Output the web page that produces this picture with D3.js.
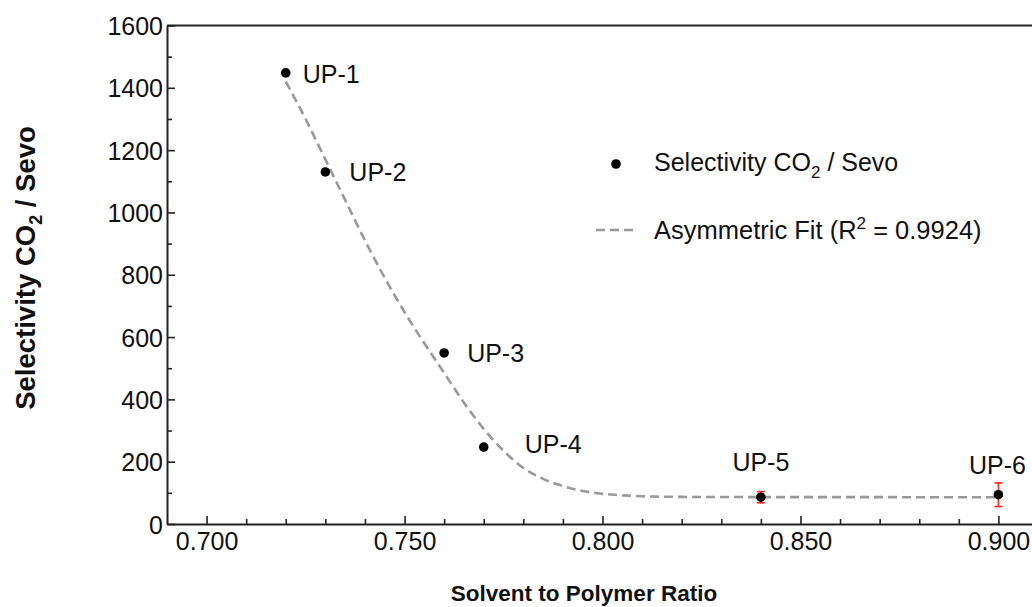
<!DOCTYPE html>
<html>
<head>
<meta charset="utf-8">
<script src="https://cdn.jsdelivr.net/npm/d3@7"></script>
<style>
  html, body { margin: 0; padding: 0; background: #fff; }
  svg { display: block; font-family: Arial, "Liberation Sans", sans-serif; }
</style>
</head>
<body>
<svg id="chart" width="1032" height="607"></svg>
<script>
// Membrane samples: solvent-to-polymer ratio vs CO2/Sevo selectivity
const sampleNames = ["UP-1", "UP-2", "UP-3", "UP-4", "UP-5", "UP-6"];
const ratios = [0.720, 0.730, 0.760, 0.770, 0.840, 0.900];
const selectivity = [1448, 1130, 549, 247, 86, 94];
const selectivityErr = [0, 0, 0, 0, 18, 38];

// Asymmetric fit curve, sampled
const fitX = [0.720, 0.725, 0.730, 0.735, 0.740, 0.745, 0.750, 0.755, 0.760, 0.765, 0.770,
              0.775, 0.780, 0.785, 0.790, 0.795, 0.800, 0.805, 0.810, 0.820, 0.830, 0.900];
const fitY = [1420, 1300, 1170, 1040, 910, 790, 680, 580, 485, 390, 305,
              235, 180, 145, 122, 106, 97, 92, 89, 87, 86.5, 86];

const xMajorTicks = [0.700, 0.750, 0.800, 0.850, 0.900];
const yMajorTicks = [0, 200, 400, 600, 800, 1000, 1200, 1400, 1600];

const svg = d3.select("#chart");
const plotLeft = 167, plotRight = 1038, plotTop = 25.5, plotBottom = 524;
const fontSize = 25;

const x = d3.scaleLinear().domain([0.69, 0.91]).range([plotLeft, plotRight]);
const y = d3.scaleLinear().domain([0, 1600]).range([plotBottom, plotTop]);

const axisColor = "#222";

// frame: top border
svg.append("line")
  .attr("x1", plotLeft).attr("x2", plotRight).attr("y1", plotTop).attr("y2", plotTop)
  .attr("stroke", axisColor).attr("stroke-width", 2);

// x axis with inward ticks
const xAxis = svg.append("g").attr("transform", `translate(0,${plotBottom})`);
xAxis.call(d3.axisBottom(x).tickValues(d3.range(0.70, 0.9001, 0.01)).tickSize(0).tickFormat(""));
xAxis.select(".domain").attr("stroke", axisColor).attr("stroke-width", 2);
xAxis.selectAll(".tick").each(function(d) {
  const major = xMajorTicks.some(v => Math.abs(v - d) < 1e-6);
  const g = d3.select(this);
  g.select("line").attr("y2", major ? -8 : -5).attr("stroke", axisColor).attr("stroke-width", 1.6);
  g.select("text").remove();
  if (major) {
    g.append("text").attr("y", 26).attr("text-anchor", "middle")
      .attr("font-size", fontSize).attr("fill", "#111").text(d3.format(".3f")(d));
  }
});

// y axis with inward ticks
const yAxis = svg.append("g").attr("transform", `translate(${plotLeft},0)`);
yAxis.call(d3.axisLeft(y).tickValues(d3.range(0, 1601, 100)).tickSize(0).tickFormat(""));
yAxis.select(".domain").attr("stroke", axisColor).attr("stroke-width", 2);
yAxis.selectAll(".tick").each(function(d) {
  const major = yMajorTicks.includes(d);
  const g = d3.select(this);
  g.select("line").attr("x2", major ? 8 : 5).attr("stroke", axisColor).attr("stroke-width", 1.6);
  g.select("text").remove();
  if (major) {
    g.append("text").attr("x", -4).attr("dy", "0.36em").attr("text-anchor", "end")
      .attr("font-size", fontSize).attr("fill", "#111").text(d);
  }
});

// axis titles
svg.append("text")
  .attr("x", 584).attr("y", 601)
  .attr("text-anchor", "middle").attr("font-size", 22.5).attr("font-weight", "bold")
  .attr("fill", "#111").text("Solvent to Polymer Ratio");

const yTitle = svg.append("text")
  .attr("transform", `translate(35,268) rotate(-90)`)
  .attr("text-anchor", "middle").attr("font-size", 27.5).attr("font-weight", "bold")
  .attr("fill", "#111");
yTitle.append("tspan").text("Selectivity CO");
yTitle.append("tspan").attr("font-size", 18).attr("dy", 7).text("2");
yTitle.append("tspan").attr("dy", -7).text(" / Sevo");

// fit curve
const fitPts = fitX.map((v, i) => [v, fitY[i]]);
svg.append("path")
  .datum(fitPts)
  .attr("fill", "none").attr("stroke", "#999").attr("stroke-width", 2.6)
  .attr("stroke-dasharray", "9,5")
  .attr("d", d3.line().x(d => x(d[0])).y(d => y(d[1])).curve(d3.curveMonotoneX));

// error bars
const pts = ratios.map((r, i) => ({ r, s: selectivity[i], e: selectivityErr[i], name: sampleNames[i] }));
const eb = svg.append("g").attr("stroke", "#ff2a1a").attr("stroke-width", 1.6);
pts.filter(d => d.e > 0).forEach(d => {
  eb.append("line").attr("x1", x(d.r)).attr("x2", x(d.r)).attr("y1", y(d.s - d.e)).attr("y2", y(d.s + d.e));
  [d.s - d.e, d.s + d.e].forEach(v => {
    eb.append("line").attr("x1", x(d.r) - 4).attr("x2", x(d.r) + 4).attr("y1", y(v)).attr("y2", y(v));
  });
});

// points
svg.append("g").selectAll("circle").data(pts).join("circle")
  .attr("cx", d => x(d.r)).attr("cy", d => y(d.s)).attr("r", 4.8).attr("fill", "#000");

// point labels
const labelOffsets = [
  { dx: 17, dy: 10, anchor: "start" },
  { dx: 24, dy: 9, anchor: "start" },
  { dx: 23, dy: 9, anchor: "start" },
  { dx: 41, dy: 6, anchor: "start" },
  { dx: 0, dy: -26, anchor: "middle" },
  { dx: -1, dy: -21, anchor: "middle" }
];
svg.append("g").selectAll("text").data(pts).join("text")
  .attr("x", (d, i) => x(d.r) + labelOffsets[i].dx)
  .attr("y", (d, i) => y(d.s) + labelOffsets[i].dy)
  .attr("text-anchor", (d, i) => labelOffsets[i].anchor)
  .attr("font-size", fontSize).attr("fill", "#111").text(d => d.name);

// legend
const lg = svg.append("g");
lg.append("circle").attr("cx", 616).attr("cy", 164).attr("r", 4.8).attr("fill", "#000");
const t1 = lg.append("text").attr("x", 654).attr("y", 171).attr("font-size", fontSize).attr("fill", "#111");
t1.append("tspan").text("Selectivity CO");
t1.append("tspan").attr("font-size", 17).attr("dy", 7).text("2");
t1.append("tspan").attr("dy", -7).text(" / Sevo");

lg.append("line").attr("x1", 596).attr("x2", 638).attr("y1", 230).attr("y2", 230)
  .attr("stroke", "#999").attr("stroke-width", 2.6).attr("stroke-dasharray", "9,5");
const t2 = lg.append("text").attr("x", 654).attr("y", 239).attr("font-size", 25.5).attr("fill", "#111");
t2.append("tspan").text("Asymmetric Fit (R");
t2.append("tspan").attr("font-size", 17).attr("dy", -10).text("2");
t2.append("tspan").attr("dy", 10).text(" = 0.9924)");
</script>
</body>
</html>
